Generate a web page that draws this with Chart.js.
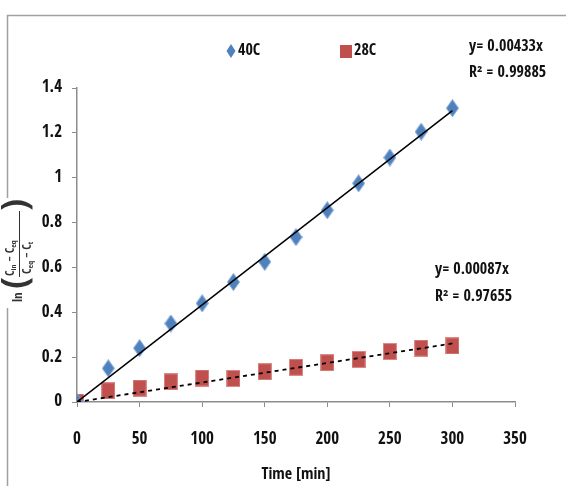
<!DOCTYPE html>
<html><head><meta charset="utf-8">
<script src="https://cdn.jsdelivr.net/npm/chart.js@4.4.0/dist/chart.umd.min.js"></script>
<style>html,body{margin:0;background:#fff}</style>
</head><body>
<canvas id="c" width="566" height="486"></canvas>
<script>
// data
const time=[0,25,50,75,100,125,150,175,200,225,250,275,300];
const c40=[0,0.15,0.24,0.35,0.44,0.535,0.625,0.735,0.855,0.975,1.09,1.205,1.31];
const c28=[0,0.05,0.062,0.09,0.107,0.105,0.135,0.155,0.175,0.19,0.225,0.24,0.25];
const trendX=[0,300];
const trend40=[0,1.299], trend28=[0,0.261];
const names=['40C','28C'];
const eq40=['y= 0.00433x','R² = 0.99885'], eq28=['y= 0.00087x','R² = 0.97655'];
const xTicks=[0,50,100,150,200,250,300,350];
const yTicks=[0,0.2,0.4,0.6,0.8,1,1.2,1.4];

const FONT='"Open Sans Condensed","Roboto Condensed",sans-serif';
const BLUE='#4F81BD', RED='#C0504D', AX='#8c8c8c';
const pts=(xs,ys)=>xs.map((x,i)=>({x,y:ys[i]}));

// marker images (excel markers come out a bit taller than wide in the picture)
function marker(w,h,draw){const cv=document.createElement('canvas');cv.width=w;cv.height=h;draw(cv.getContext('2d'),w,h);return cv;}
const diamond=marker(13,18,(g,w,h)=>{g.fillStyle=BLUE;g.strokeStyle='#7fa6d6';g.beginPath();g.moveTo(w/2,0.5);g.lineTo(w-0.5,h/2);g.lineTo(w/2,h-0.5);g.lineTo(0.5,h/2);g.closePath();g.fill();g.stroke();});
const square=marker(14,17,(g,w,h)=>{g.fillStyle=RED;g.strokeStyle='#d98a88';g.fillRect(0,0,w,h);g.strokeRect(0.5,0.5,w-1,h-1);});

function sub(ctx,x,y,base,s,fs){ // C with subscript, returns width
  ctx.font=`${fs}px ${FONT}`; ctx.fillText(base,x,y); let w=ctx.measureText(base).width;
  ctx.font=`${fs*0.65}px ${FONT}`; ctx.fillText(s,x+w,y+fs*0.25); return w+ctx.measureText(s).width;
}

const extras={id:'extras',
  beforeDraw(ch){const c=ch.ctx;c.save();c.strokeStyle='#a0a0a0';c.lineWidth=1.5;
    c.beginPath();c.moveTo(7.5,486);c.lineTo(7.5,15.5);c.lineTo(566,15.5);c.stroke();c.restore();},
  afterDraw(ch){
    const c=ch.ctx;c.save();c.fillStyle='#111';c.textBaseline='middle';
    // legend
    c.fillStyle=BLUE;c.beginPath();c.moveTo(231,44);c.lineTo(235.5,51);c.lineTo(231,58);c.lineTo(226.5,51);c.closePath();c.fill();
    c.fillStyle=RED;c.fillRect(340,45,12,13);
    c.fillStyle='#111';c.font=`bold 16px ${FONT}`;c.textAlign='left';
    c.fillText(names[0],238,51);c.fillText(names[1],354,51);
    // equations
    c.fillText(eq40[0],469,47);c.fillText(eq40[1],469,73);
    c.fillText(eq28[0],435,270);c.fillText(eq28[1],435,297);
    // y title (rotated fraction)
    c.fillStyle='#fff';c.fillRect(1,198,36,110);
    c.translate(19,246);c.rotate(-Math.PI/2);c.fillStyle='#333';c.strokeStyle='#333';
    c.font=`13px ${FONT}`;c.textAlign='left';c.fillText('ln',-56,0);
    c.font=`36px ${FONT}`;c.textAlign='center';c.fillText('(',-37,-1);c.fillText(')',41,-1);
    c.textAlign='left';
    let x=-30; x+=sub(c,x,-8,'C','in',12); c.font=`12px ${FONT}`;c.fillText(' − ',x,-8);x+=c.measureText(' − ').width; sub(c,x,-8,'C','eq',12);
    x=-28; x+=sub(c,x,9,'C','eq',12); c.font=`12px ${FONT}`;c.fillText(' − ',x,9);x+=c.measureText(' − ').width; sub(c,x,9,'C','t',12);
    c.lineWidth=1;c.beginPath();c.moveTo(-31,0.5);c.lineTo(35,0.5);c.stroke();
    c.restore();
  }};

new Chart(document.getElementById('c'),{
  type:'scatter',
  data:{datasets:[
    {label:names[0],data:pts(time,c40),pointStyle:diamond,pointRadius:8,backgroundColor:BLUE,order:2},
    {label:names[1],data:pts(time,c28),pointStyle:square,pointRadius:8,backgroundColor:RED,order:3},
    {type:'line',data:pts(trendX,trend40),borderColor:'#000',borderWidth:1.5,pointRadius:0,order:0},
    {type:'line',data:pts(trendX,trend28),borderColor:'#000',borderWidth:1.8,borderDash:[4,4],pointRadius:0,order:1}
  ]},
  options:{responsive:false,animation:false,devicePixelRatio:1,
    layout:{padding:{top:88,right:51,left:0,bottom:0}},
    plugins:{legend:{display:false},tooltip:{enabled:false}},
    scales:{
      x:{type:'linear',min:0,max:350,
        afterBuildTicks:s=>{s.ticks=xTicks.map(v=>({value:v}))},
        afterFit:s=>{s.height=84},
        grid:{drawOnChartArea:false,tickLength:5,color:AX},border:{color:AX,width:1.5},
        ticks:{padding:22,color:'#111',font:{family:FONT,size:17,weight:'bold'},maxRotation:0},
        title:{display:true,text:'Time [min]',color:'#111',font:{family:FONT,size:16,weight:'bold'},padding:{top:0,bottom:2}}},
      y:{min:0,max:1.4,
        afterBuildTicks:s=>{s.ticks=yTicks.map(v=>({value:v}))},
        afterFit:s=>{s.width=77},
        grid:{drawOnChartArea:false,tickLength:5,color:AX},border:{color:AX,width:1.5},
        ticks:{padding:10,color:'#111',font:{family:FONT,size:17,weight:'bold'},callback:v=>String(Math.round(v*10)/10)}}
    }},
  plugins:[extras]
});
</script>
</body></html>
